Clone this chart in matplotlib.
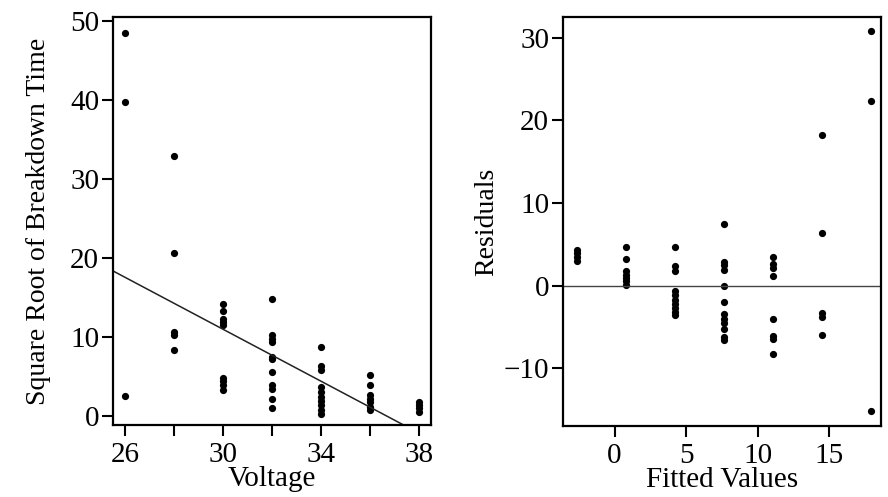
import numpy as np
import matplotlib
matplotlib.use("Agg")
import matplotlib.pyplot as plt
from matplotlib.ticker import MultipleLocator

# Dados (raiz quadrada do tempo de ruptura por voltagem)
voltagens = [26, 28, 30, 32, 34, 36, 38]
raiz_tempo = [
    [48.5, 39.8, 2.6],
    [32.9, 20.7, 10.6, 10.3, 8.4],
    [14.2, 13.3, 12.3, 11.9, 11.6, 4.8, 4.4, 4.0, 3.3],
    [14.8, 10.3, 9.8, 9.4, 7.5, 7.2, 5.6, 3.9, 3.5, 2.2, 1.0],
    [8.7, 6.3, 5.9, 3.7, 3.1, 2.4, 1.9, 1.4, 0.8, 0.25],
    [5.2, 3.9, 2.7, 2.2, 1.8, 1.2, 0.8],
    [1.8, 1.4, 1.0, 0.6],
]
# reta de regressão desenhada no painel da esquerda
reta_intercepto = 60.2
reta_inclinacao = -1.64

# Painel de resíduos: valores ajustados e resíduos
ajustados = [17.9, 14.5, 11.1, 7.65, 4.2, 0.8, -2.6]
residuos = [
    [30.8, 22.3, -15.2],
    [18.2, 6.3, -3.3, -3.8, -6.0],
    [3.4, 2.6, 2.1, 1.2, -4.0, -6.1, -6.5, -8.3],
    [7.4, 2.9, 2.5, 1.9, 0.0, -2.0, -3.5, -4.0, -4.5, -5.3, -6.2, -6.6],
    [4.7, 2.3, 1.8, -0.7, -1.2, -1.7, -2.25, -2.75, -3.2, -3.6],
    [4.6, 3.2, 1.7, 1.3, 0.9, 0.5, 0.1],
    [4.3, 3.9, 3.4, 3.0],
]

plt.rcParams['font.family'] = ['Liberation Serif', 'DejaVu Serif']
plt.rcParams['font.size'] = 21
plt.rcParams['axes.linewidth'] = 1.6

fig = plt.figure(figsize=(8.88, 4.97), dpi=100)
ax1 = fig.add_axes([0.1273, 0.1449, 0.3581, 0.8209])
ax2 = fig.add_axes([0.634, 0.1429, 0.358, 0.823])

x_pts = [v for v, ys in zip(voltagens, raiz_tempo) for _ in ys]
y_pts = [y for ys in raiz_tempo for y in ys]
f_pts = [f for f, rs in zip(ajustados, residuos) for _ in rs]
r_pts = [r for rs in residuos for r in rs]

# Painel esquerdo
ax1.plot(x_pts, y_pts, 'o', color='black', ms=5.2, mew=0)
ax1.set_xlim(25.5, 38.5)
ax1.set_ylim(-1.1, 50.5)
xx = np.array(ax1.get_xlim())
ax1.plot(xx, reta_intercepto + reta_inclinacao * xx, color='#222222', lw=1.1)
ax1.set_xticks([26, 30, 34, 38])
ax1.xaxis.set_minor_locator(MultipleLocator(2))
ax1.set_yticks([0, 10, 20, 30, 40, 50])
ax1.set_xlabel('Voltage', labelpad=-1)
ax1.set_ylabel('Square Root of Breakdown Time', fontsize=20, labelpad=14)

# Painel direito
ax2.plot(f_pts, r_pts, 'o', color='black', ms=5.2, mew=0)
ax2.axhline(0, color='#444444', lw=1.0)
ax2.set_xlim(-3.6, 18.6)
ax2.set_ylim(-17.0, 32.5)
ax2.set_xticks([0, 5, 10, 15])
ax2.set_yticks([-10, 0, 10, 20, 30])
ax2.set_xlabel('Fitted Values', labelpad=-1)
ax2.set_ylabel('Residuals', fontsize=20, labelpad=3)

for ax in (ax1, ax2):
    ax.tick_params(which='both', direction='out', length=8, width=1.5)
    ax.tick_params(axis='x', pad=4)
    ax.tick_params(axis='y', pad=2)

fig.savefig('out.png', dpi=100)
